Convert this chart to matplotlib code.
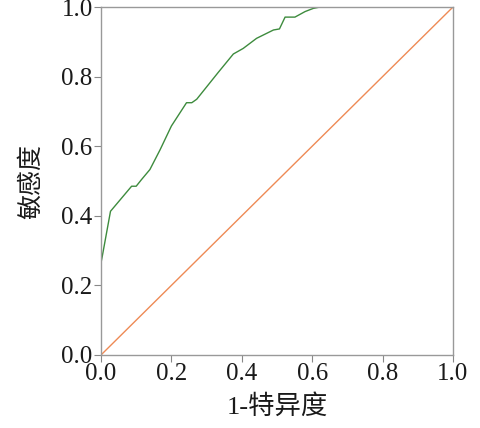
import matplotlib
matplotlib.use('Agg')
import matplotlib.pyplot as plt

plt.rcParams['font.family'] = ['Liberation Serif', 'Noto Sans CJK SC']

# ROC 曲线上的点 (1-特异度, 敏感度)
fpr = [0.0, 0.0, 0.003, 0.027, 0.087, 0.10, 0.115, 0.139, 0.168, 0.20,
       0.243, 0.258, 0.272, 0.333, 0.376, 0.404, 0.442, 0.49, 0.507,
       0.523, 0.551, 0.580, 0.603, 0.622, 1.0]
tpr = [0.0, 0.265, 0.28, 0.413, 0.485, 0.485, 0.504, 0.533, 0.59, 0.658,
       0.725, 0.725, 0.735, 0.812, 0.865, 0.881, 0.910, 0.934, 0.937,
       0.971, 0.971, 0.987, 0.996, 1.0, 1.0]
ref_line = [0.0, 1.0]
ticks = [0.0, 0.2, 0.4, 0.6, 0.8, 1.0]

fig = plt.figure(figsize=(4.8, 4.28), dpi=100)
ax = fig.add_axes([0.2104, 0.1706, 0.7333, 0.8130])

ax.plot(ref_line, ref_line, color='#ee8a55', lw=1.0)
ax.plot(fpr, tpr, color='#3d8b3d', lw=1.0)

ax.set_xlim(0, 1)
ax.set_ylim(0, 1)
ax.set_xticks(ticks)
ax.set_yticks(ticks)
ax.set_xticklabels([f'{t:.1f}' for t in ticks])
ax.set_yticklabels([f'{t:.1f}' for t in ticks])
ax.tick_params(direction='out', length=5, width=0.8, colors='#888888',
               labelcolor='#1a1a1a', labelsize=18, pad=1)
for s in ax.spines.values():
    s.set_color('#999999')
    s.set_linewidth(1.0)

ax.set_xlabel('1-特异度', fontsize=19, color='#1a1a1a', labelpad=6)
ax.set_ylabel('敏感度', fontsize=18, color='#1a1a1a', labelpad=13)

fig.savefig('out.png', dpi=100)
